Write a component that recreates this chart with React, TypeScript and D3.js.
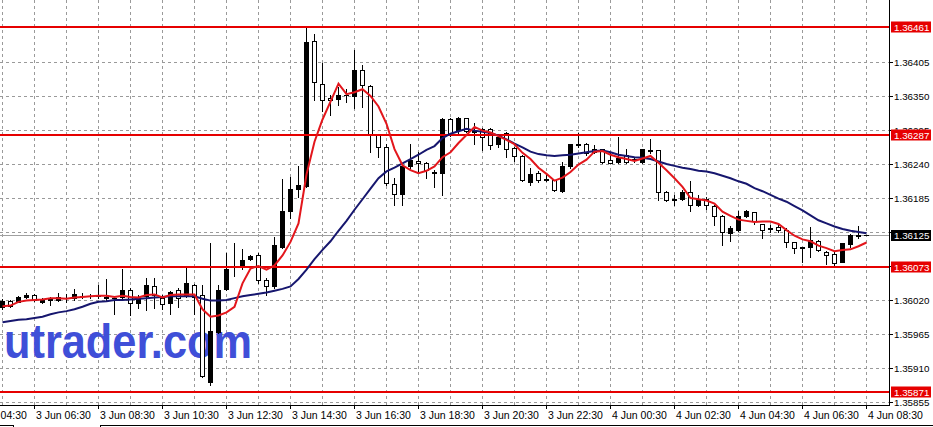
import React from 'react';
import * as d3 from 'd3';

// ---- data (M15 candles, 3 Jun 05:30 .. 4 Jun 08:30) ----
const opens = [1.36008,1.36019,1.36017,1.36025,1.36028,1.36016,1.36021,1.36020,1.36023,1.36023,
1.36027,1.36026,1.36026,1.36025,1.36024,1.36025,1.36036,1.36015,1.36027,1.36042,
1.36024,1.36015,1.36036,1.36028,1.36045,1.36028,1.35888,1.35969,1.36037,1.36073,
1.36073,1.36086,1.36093,1.36052,1.36042,1.36106,1.36164,1.36199,1.36205,1.36439,
1.36369,1.36346,1.36345,1.36352,1.36350,1.36392,1.36366,1.36287,1.36267,1.36208,
1.36191,1.36236,1.36245,1.36241,1.36227,1.36225,1.36313,1.36295,1.36314,1.36293,
1.36297,1.36297,1.36272,1.36290,1.36266,1.36253,1.36211,1.36225,1.36215,1.36214,
1.36197,1.36236,1.36271,1.36272,1.36265,1.36264,1.36247,1.36244,1.36255,1.36248,
1.36244,1.36262,1.36262,1.36194,1.36184,1.36183,1.36194,1.36174,1.36183,1.36172,
1.36156,1.36128,1.36133,1.36156,1.36162,1.36143,1.36136,1.36138,1.36133,1.36114,
1.36105,1.36105,1.36116,1.36098,1.36094,1.36082,1.36111,1.36124,1.36125];

const highs = [1.36022,1.36020,1.36026,1.36031,1.36029,1.36023,1.36025,1.36031,1.36029,1.36037,
1.36031,1.36029,1.36045,1.36054,1.36025,1.36070,1.36039,1.36028,1.36055,1.36055,
1.36028,1.36035,1.36039,1.36073,1.36046,1.36044,1.36113,1.36044,1.36096,1.36113,
1.36103,1.36093,1.36096,1.36056,1.36122,1.36216,1.36219,1.36237,1.36461,1.36450,
1.36403,1.36352,1.36365,1.36362,1.36424,1.36400,1.36368,1.36287,1.36273,1.36217,
1.36237,1.36272,1.36260,1.36244,1.36230,1.36314,1.36314,1.36316,1.36315,1.36306,
1.36298,1.36298,1.36287,1.36292,1.36268,1.36255,1.36233,1.36228,1.36222,1.36214,
1.36244,1.36273,1.36290,1.36274,1.36271,1.36265,1.36257,1.36283,1.36265,1.36252,
1.36265,1.36280,1.36263,1.36196,1.36190,1.36198,1.36213,1.36190,1.36187,1.36174,
1.36157,1.36139,1.36164,1.36165,1.36163,1.36143,1.36141,1.36141,1.36137,1.36114,
1.36106,1.36138,1.36117,1.36100,1.36098,1.36113,1.36127,1.36139,1.36125];

const lows = [1.36005,1.36009,1.36016,1.36023,1.36019,1.36015,1.36012,1.36018,1.36017,1.36020,
1.36023,1.36023,1.36023,1.36020,1.35998,1.36023,1.35996,1.36007,1.36004,1.36007,
1.36005,1.35997,1.36009,1.36025,1.35997,1.35895,1.35882,1.35967,1.36036,1.36059,
1.36070,1.36085,1.36047,1.36028,1.36039,1.36104,1.36153,1.36187,1.36203,1.36344,
1.36326,1.36319,1.36335,1.36341,1.36330,1.36333,1.36259,1.36252,1.36206,1.36174,
1.36173,1.36233,1.36225,1.36217,1.36203,1.36190,1.36285,1.36290,1.36292,1.36273,
1.36263,1.36264,1.36268,1.36252,1.36245,1.36213,1.36206,1.36211,1.36213,1.36197,
1.36195,1.36233,1.36268,1.36255,1.36257,1.36241,1.36241,1.36241,1.36241,1.36244,
1.36241,1.36257,1.36182,1.36180,1.36174,1.36182,1.36164,1.36172,1.36168,1.36141,
1.36109,1.36116,1.36132,1.36155,1.36143,1.36121,1.36130,1.36130,1.36105,1.36096,
1.36081,1.36089,1.36100,1.36078,1.36077,1.36081,1.36105,1.36121,1.36125];

const closes = [1.36019,1.36011,1.36025,1.36028,1.36020,1.36021,1.36020,1.36025,1.36024,1.36030,
1.36026,1.36027,1.36027,1.36024,1.36023,1.36036,1.36015,1.36021,1.36044,1.36028,
1.36013,1.36033,1.36024,1.36047,1.36025,1.35897,1.35970,1.36036,1.36070,1.36075,
1.36085,1.36091,1.36053,1.36042,1.36109,1.36164,1.36200,1.36206,1.36438,1.36372,
1.36344,1.36344,1.36351,1.36351,1.36392,1.36368,1.36287,1.36267,1.36209,1.36191,
1.36236,1.36247,1.36241,1.36230,1.36226,1.36313,1.36287,1.36314,1.36294,1.36292,
1.36284,1.36271,1.36284,1.36265,1.36253,1.36214,1.36224,1.36214,1.36214,1.36198,
1.36237,1.36272,1.36272,1.36258,1.36260,1.36244,1.36242,1.36249,1.36244,1.36247,
1.36264,1.36261,1.36195,1.36182,1.36182,1.36195,1.36174,1.36183,1.36174,1.36156,
1.36130,1.36136,1.36156,1.36164,1.36147,1.36134,1.36135,1.36133,1.36114,1.36104,
1.36104,1.36117,1.36101,1.36093,1.36080,1.36112,1.36125,1.36125,1.36125];

const maFast = [1.36010,1.36011,1.36017,1.36019,1.36020,1.36021,1.36023,1.36023,1.36022,1.36024,
1.36025,1.36026,1.36027,1.36027,1.36025,1.36027,1.36025,1.36024,1.36028,1.36029,
1.36024,1.36028,1.36029,1.36029,1.36029,1.36005,1.35993,1.35995,1.36000,1.36009,
1.36047,1.36071,1.36075,1.36069,1.36076,1.36092,1.36114,1.36144,1.36223,1.36276,
1.36312,1.36341,1.36370,1.36353,1.36356,1.36361,1.36350,1.36333,1.36305,1.36264,
1.36238,1.36230,1.36225,1.36229,1.36236,1.36251,1.36259,1.36274,1.36287,1.36300,
1.36294,1.36291,1.36285,1.36279,1.36272,1.36258,1.36248,1.36234,1.36224,1.36213,
1.36218,1.36227,1.36239,1.36247,1.36260,1.36261,1.36255,1.36251,1.36248,1.36245,
1.36249,1.36253,1.36242,1.36230,1.36217,1.36203,1.36185,1.36183,1.36181,1.36176,
1.36163,1.36156,1.36150,1.36148,1.36146,1.36147,1.36147,1.36143,1.36133,1.36124,
1.36118,1.36115,1.36108,1.36104,1.36099,1.36101,1.36102,1.36107,1.36113];

const maSlow = [1.35984,1.35986,1.35988,1.35989,1.35991,1.35993,1.35997,1.36000,1.36002,1.36005,
1.36009,1.36014,1.36017,1.36018,1.36020,1.36020,1.36021,1.36022,1.36023,1.36024,
1.36025,1.36026,1.36026,1.36026,1.36026,1.36022,1.36019,1.36019,1.36020,1.36023,
1.36026,1.36028,1.36030,1.36032,1.36035,1.36038,1.36042,1.36054,1.36069,1.36086,
1.36101,1.36115,1.36132,1.36148,1.36166,1.36183,1.36200,1.36217,1.36228,1.36234,
1.36241,1.36248,1.36255,1.36263,1.36269,1.36282,1.36289,1.36293,1.36297,1.36294,
1.36292,1.36290,1.36286,1.36280,1.36273,1.36267,1.36260,1.36256,1.36254,1.36253,
1.36254,1.36255,1.36257,1.36259,1.36261,1.36262,1.36259,1.36255,1.36253,1.36251,
1.36250,1.36248,1.36244,1.36240,1.36237,1.36234,1.36232,1.36229,1.36228,1.36225,
1.36221,1.36217,1.36212,1.36208,1.36201,1.36196,1.36190,1.36184,1.36179,1.36172,
1.36165,1.36157,1.36149,1.36144,1.36139,1.36135,1.36132,1.36130,1.36128];

// grid levels; labels of the ones hidden under the level boxes are not shown
const priceTicks = [1.36405,1.36350,1.36295,1.36240,1.36185,1.36130,1.36075,1.36020,1.35965,1.35910,1.35855];
const priceTickLabels = ['1.36405','1.36350','1.36295','1.36240','1.36185','','','1.36020','1.35965','1.35910','1.35855'];
const timeLabels = ['3 Jun 04:30','3 Jun 06:30','3 Jun 08:30','3 Jun 10:30','3 Jun 12:30','3 Jun 14:30',
  '3 Jun 16:30','3 Jun 18:30','3 Jun 20:30','3 Jun 22:30','4 Jun 00:30','4 Jun 02:30','4 Jun 04:30',
  '4 Jun 06:30','4 Jun 08:30'];
const timeLabelBars = [-4,4,12,20,28,36,44,52,60,68,76,84,92,100,108];
const levels = [1.36461, 1.36287, 1.36073, 1.35871];
const currentPrice = 1.36125;

const W = 933, H = 427;
const PLOT_R = 889, PLOT_B = 405;
const FONT = '"Liberation Sans", Arial, sans-serif';
const FS = 10.5;
const PFS = 9.8;

export default function App() {
  const x = d3.scaleLinear().domain([0, 108]).range([2, 866]);
  const y = d3.scaleLinear().domain([1.35855, 1.36405]).range([402, 62]);
  const px = (i: number) => Math.round(x(i));
  const py = (v: number) => Math.round(y(v));

  const line = d3.line<number>().x((_, i) => px(i) + 0.5).y(d => y(d));

  const gridBars = d3.range(0, 109, 4);

  return (
    <div style={{ position: 'absolute', left: 0, top: 0 }}>
      <svg width={W} height={H} style={{ display: 'block', background: '#fff' }} fontFamily={FONT}>
        <rect x={0} y={0} width={W} height={H} fill="#fff" />
        {/* grid */}
        {priceTicks.map(p => (
          <line key={'h' + p} x1={0} x2={PLOT_R} y1={py(p) + 0.5} y2={py(p) + 0.5}
            stroke="#9a9a9a" strokeDasharray="3,3" />
        ))}
        {gridBars.map(b => (
          <line key={'v' + b} x1={px(b) + 0.5} x2={px(b) + 0.5} y1={0} y2={PLOT_B}
            stroke="#9a9a9a" strokeDasharray="3,3" />
        ))}
        {/* watermark */}
        <text x={4} y={358} fontSize={48} fontWeight="bold" fill="#3f4fd8"
          textLength={248} lengthAdjust="spacingAndGlyphs">utrader.com</text>
        {/* current price line */}
        <line x1={0} x2={PLOT_R} y1={py(currentPrice) + 0.5} y2={py(currentPrice) + 0.5} stroke="#a0a0a0" />
        {/* candles */}
        {opens.map((o, i) => {
          const c = closes[i];
          const cx = px(i);
          const yh = py(highs[i]);
          const yl = py(lows[i]);
          const top = py(Math.max(o, c));
          const bot = py(Math.min(o, c));
          const bull = c >= o;
          return (
            <g key={'c' + i}>
              <line x1={cx + 0.5} x2={cx + 0.5} y1={yh} y2={yl + 1} stroke="#000" />
              {bull || bot - top < 2 ? (
                <rect x={cx - 2} y={top} width={5} height={Math.max(1, bot - top + 1)} fill="#000" />
              ) : (
                <rect x={cx - 1.5} y={top + 0.5} width={4} height={bot - top} fill="#fff" stroke="#000" />
              )}
            </g>
          );
        })}
        {/* horizontal levels */}
        {levels.map(l => (
          <rect key={'l' + l} x={0} y={py(l) - 1} width={PLOT_R} height={2} fill="#e60000" />
        ))}
        {/* moving averages */}
        <path d={line(maSlow) || ''} fill="none" stroke="#16166e" strokeWidth={2} />
        <path d={line(maFast) || ''} fill="none" stroke="#e3161c" strokeWidth={2} />
        {/* frame */}
        <line x1={PLOT_R + 0.5} x2={PLOT_R + 0.5} y1={0} y2={PLOT_B + 1} stroke="#000" />
        <line x1={0} x2={PLOT_R + 1} y1={PLOT_B + 0.5} y2={PLOT_B + 0.5} stroke="#000" />
        {/* price axis */}
        {priceTicks.map((p, j) => (
          <g key={'pt' + p}>
            <line x1={PLOT_R} x2={PLOT_R + 4} y1={py(p) + 0.5} y2={py(p) + 0.5} stroke="#000" />
            {priceTickLabels[j] && (
              <text x={894} y={py(p) + 0.5} dominantBaseline="central" fontSize={PFS} fill="#000">{priceTickLabels[j]}</text>
            )}
          </g>
        ))}
        {levels.map(l => (
          <g key={'lb' + l}>
            <rect x={891} y={py(l) - 5.5} width={40} height={11} fill="#e60000" />
            <text x={894} y={py(l) + 0.5} dominantBaseline="central" fontSize={PFS} fill="#fff">{l.toFixed(5)}</text>
          </g>
        ))}
        <g>
          <rect x={891} y={py(currentPrice) - 5} width={40} height={11} fill="#000" />
          <text x={894} y={py(currentPrice) + 0.5} dominantBaseline="central" fontSize={PFS} fill="#fff">{currentPrice.toFixed(5)}</text>
        </g>
        {/* time axis */}
        {timeLabels.map((t, j) => {
          const tx = px(timeLabelBars[j]);
          return (
            <g key={'t' + t}>
              <line x1={tx + 0.5} x2={tx + 0.5} y1={PLOT_B} y2={PLOT_B + 4} stroke="#000" />
              <text x={tx + 2} y={418.5} fontSize={FS} fill="#000">{t}</text>
            </g>
          );
        })}
        {/* bottom tab strip */}
        <line x1={0} x2={13} y1={425.5} y2={425.5} stroke="#000" />
        <line x1={13.5} x2={13.5} y1={425} y2={427} stroke="#000" />
        <line x1={100.5} x2={100.5} y1={425} y2={427} stroke="#000" />
        <line x1={100} x2={W} y1={425.5} y2={425.5} stroke="#000" />
      </svg>
    </div>
  );
}
